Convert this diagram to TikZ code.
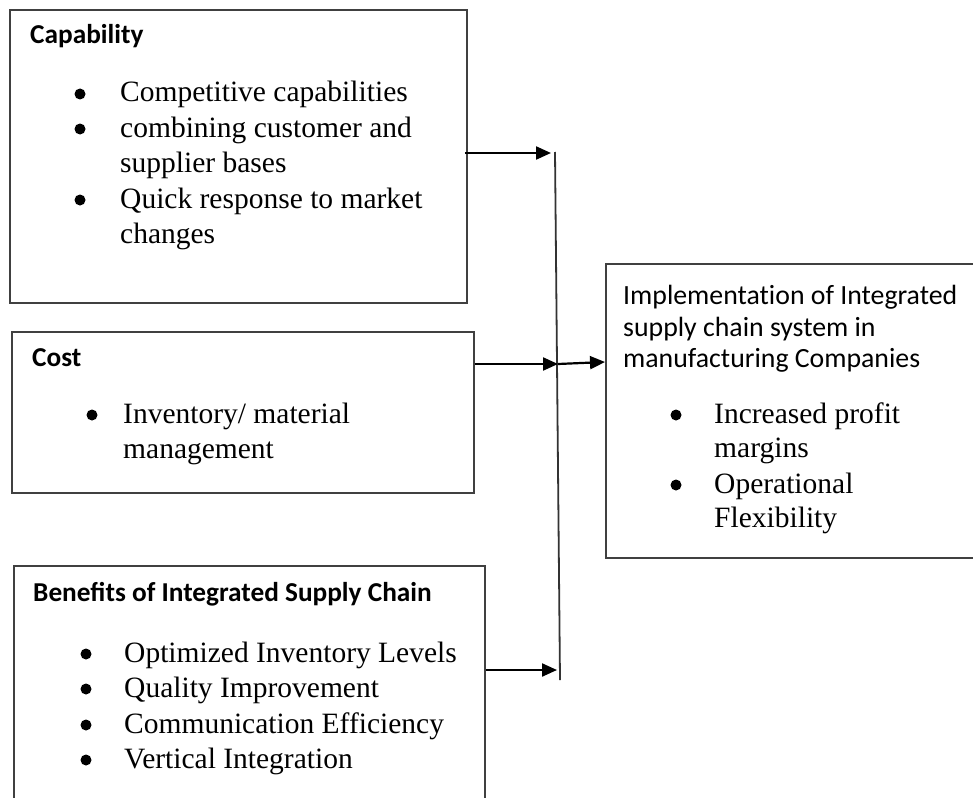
\documentclass[tikz,border=0pt]{standalone}
\usepackage{fontspec}
\setmainfont{Liberation Serif}
\newfontfamily\headfont{Carlito}
\newfontfamily\ttlfont[Ligatures=NoCommon]{Carlito}
\usetikzlibrary{arrows.meta}
\tikzset{
  box/.style={draw=black!75, line width=1.8pt, anchor=north west, inner sep=0pt},
  head/.style={anchor=base west, inner sep=0pt, font=\headfont\bfseries\fontsize{27.3}{32}\selectfont},
  ttl/.style={anchor=base west, inner sep=0pt, font=\ttlfont\fontsize{27.8}{32}\selectfont},
  itm/.style={anchor=base west, inner sep=0pt, font=\fontsize{29.5}{35}\selectfont},
  bul/.style={circle, fill=black, inner sep=0pt, minimum size=11pt},
  arr/.style={line width=2.2pt, -{Triangle[length=15pt,width=13pt]}},
  vline/.style={draw=black!80, line width=1.8pt}
}
\begin{document}
\begin{tikzpicture}[x=1pt,y=-1pt]
\useasboundingbox (0,0) rectangle (973,797);
% boxes
\node[box, minimum width=457pt, minimum height=293pt] (cap) at (9,9) {};
\node[box, minimum width=462pt, minimum height=161pt] (cost) at (11,331) {};
\node[box, minimum width=471pt, minimum height=260pt] (ben) at (13,565) {};
\node[box, minimum width=400pt, minimum height=294pt] (impl) at (605,263) {};
% Capability
\node[head] (capH) at (30,44) {Capability};
\node[bul] (cb1) at (80,94) {};
\node[itm] (ct1) at (120,102) {Competitive capabilities};
\node[bul] (cb2) at (80,129) {};
\node[itm] (ct2) at (120,137) {combining customer and};
\node[itm] (ct3) at (120,172) {supplier bases};
\node[bul] (cb3) at (80,200) {};
\node[itm] (ct4) at (120,208) {Quick response to market};
\node[itm] (ct5) at (120,243) {changes};
% Cost
\node[head] (costH) at (32,366) {Cost};
\node[bul] (ob1) at (92,415) {};
\node[itm] (ot1) at (123,423) {Inventory/ material};
\node[itm] (ot2) at (123,458) {management};
% Benefits
\node[head] (benH) at (33,601) {Benefits of Integrated Supply Chain};
\node[bul] (bb1) at (86,654) {};
\node[itm] (bt1) at (124,662) {Optimized Inventory Levels};
\node[bul] (bb2) at (86,689) {};
\node[itm] (bt2) at (124,697) {Quality Improvement};
\node[bul] (bb3) at (86,725) {};
\node[itm] (bt3) at (124,733) {Communication Efficiency};
\node[bul] (bb4) at (86,760) {};
\node[itm] (bt4) at (124,768) {Vertical Integration};
% Implementation
\node[ttl] (it1) at (623,304) {Implementation of Integrated};
\node[ttl] (it2) at (623,336) {supply chain system in};
\node[ttl] (it3) at (623,367) {manufacturing Companies};
\node[bul] (ib1) at (676,415) {};
\node[itm] (ir1) at (714,423) {Increased profit};
\node[itm] (ir2) at (714,457) {margins};
\node[bul] (ib2) at (676,485) {};
\node[itm] (ir3) at (714,493) {Operational};
\node[itm] (ir4) at (714,527) {Flexibility};
% connectors
\coordinate (vtop) at (555,152);
\coordinate (vbot) at (560,680);
\coordinate (vmid) at (558,364);
\draw[vline] (vtop) -- (vbot);
\coordinate (a1) at (551,153);
\draw[arr] ([xshift=-3pt]cap.east |- a1) -- (a1);
\draw[arr] (cost.east |- vmid) -- (vmid);
\draw[arr] (vmid) -- (impl.west |- 0,362);
\coordinate (a3) at (557,670);
\draw[arr] (ben.east |- a3) -- (a3);
\end{tikzpicture}
\end{document}
